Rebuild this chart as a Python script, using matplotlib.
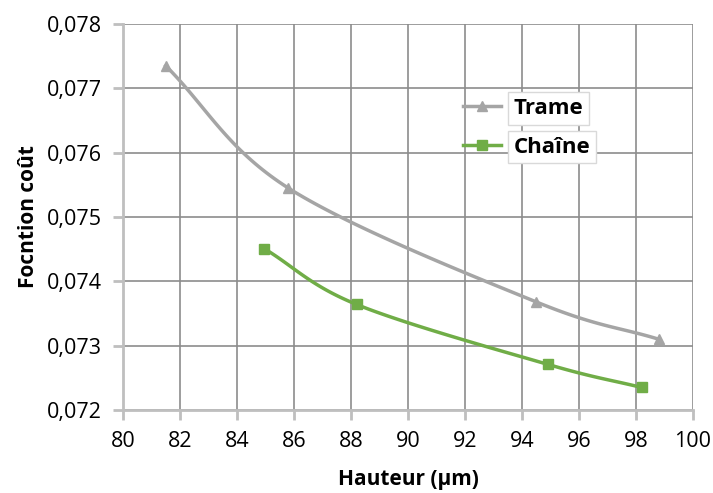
import numpy as np
import matplotlib
matplotlib.use("Agg")
import matplotlib.pyplot as plt
from matplotlib.ticker import FuncFormatter, MultipleLocator
from matplotlib.lines import Line2D

# Données
trame_x = [81.5, 85.8, 94.5, 98.8]
trame_y = [0.07735, 0.07545, 0.07368, 0.07310]
chaine_x = [84.95, 88.2, 94.9, 98.2]
chaine_y = [0.07451, 0.07364, 0.07271, 0.07235]

series = ["Trame", "Chaîne"]
couleurs = ["#A5A5A5", "#70AD47"]
marqueurs = ["^", "s"]


def lissage(x, y, n=40):
    # courbe lissée type Excel (Catmull-Rom)
    p = np.column_stack([x, y]).astype(float)
    p = np.vstack([2 * p[0] - p[1], p, 2 * p[-1] - p[-2]])
    out = []
    for i in range(1, len(p) - 2):
        p0, p1, p2, p3 = p[i - 1], p[i], p[i + 1], p[i + 2]
        t = np.linspace(0, 1, n)[:, None]
        c = 0.5 * ((2 * p1) + (-p0 + p2) * t + (2 * p0 - 5 * p1 + 4 * p2 - p3) * t ** 2
                   + (-p0 + 3 * p1 - 3 * p2 + p3) * t ** 3)
        out.append(c)
    c = np.vstack(out)
    return c[:, 0], c[:, 1]


plt.rcParams['font.family'] = ['Open Sans', 'DejaVu Sans']

fig = plt.figure(figsize=(7.13, 4.93), dpi=100)
ax = fig.add_axes([123 / 713, 1 - 410 / 493, 570 / 713, 386 / 493])

for xs, ys, nom, col, m in zip([trame_x, chaine_x], [trame_y, chaine_y], series, couleurs, marqueurs):
    sx, sy = lissage(xs, ys)
    ax.plot(sx, sy, color=col, lw=2.5, zorder=3)
    ax.plot(xs, ys, ls="none", marker=m, color=col, ms=7, zorder=4)

ax.set_xlim(80, 100)
ax.set_ylim(0.072, 0.078)
ax.xaxis.set_major_locator(MultipleLocator(2))
ax.yaxis.set_major_locator(MultipleLocator(0.001))
ax.yaxis.set_major_formatter(FuncFormatter(lambda v, p: f"{v:.3f}".replace(".", ",")))
ax.grid(True, color="#8C8C8C", lw=1.2)
ax.set_axisbelow(True)
for s in ["top", "right"]:
    ax.spines[s].set_visible(False)
for s in ["left", "bottom"]:
    ax.spines[s].set_color("#BFBFBF")
    ax.spines[s].set_linewidth(2)
ax.tick_params(axis="both", colors="#BFBFBF", width=2, length=7, labelsize=15.5,
               labelcolor="black", pad=8)

ax.set_xlabel("Hauteur (µm)", fontsize=15, fontweight="bold", labelpad=12)
ax.set_ylabel("Focntion coût", fontsize=15, fontweight="bold", labelpad=6)

# Légende
poignees = [Line2D([], [], color=c, lw=2.5, marker=m, ms=7) for c, m in zip(couleurs, marqueurs)]
leg = ax.legend(poignees, series, loc="upper left", bbox_to_anchor=(0.562, 0.86),
                frameon=False, prop={"size": 16, "weight": "bold"},
                handlelength=1.7, handletextpad=0.55, labelspacing=0.8)
for t in leg.get_texts():
    t.set_bbox(dict(facecolor="white", edgecolor="#D9D9D9", pad=4))

fig.savefig("out.png", dpi=100)
